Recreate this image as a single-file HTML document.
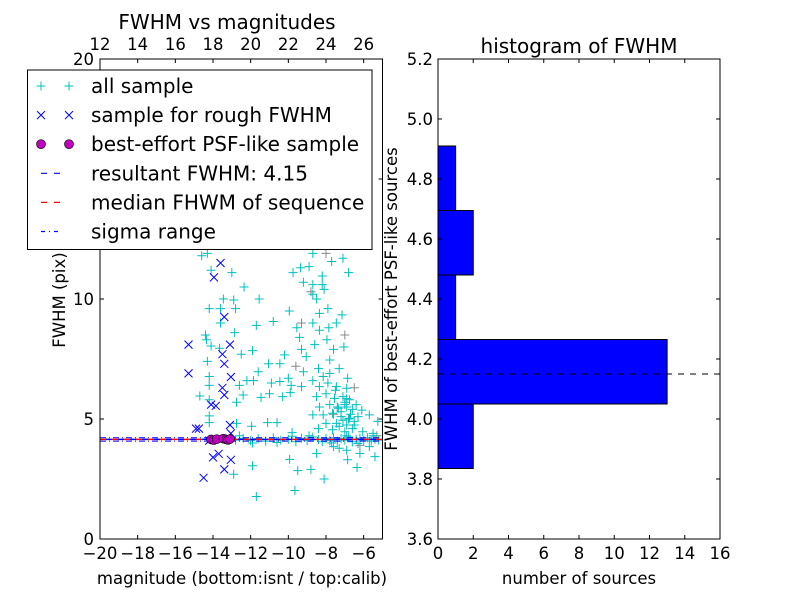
<!DOCTYPE html>
<html><head><meta charset="utf-8"><style>
html,body{margin:0;padding:0;background:#fff;}
svg{display:block;font-family:"DejaVu Sans","Liberation Sans",sans-serif;}
</style></head><body>
<svg id="c" width="800" height="600" viewBox="0 0 800 600"></svg>
<script>
// ---- data ----
const allMag = [-14.6,-14.3,-14.1,-13.0,-12.35,-11.55,-13.45,-12.9,-14.2,-13.6,-12.8,-13.6,-11.7,-10.8,-14.4,-14.35,-12.85,-14.1,-13.65,-12.5,-11.9,-14.3,-11.6,-11.05,-10.45,-10.2,-14.2,-14.2,-12.6,-12.2,-11.85,-10.9,-10.45,-10.0,-9.85,-9.3,-14.7,-14.2,-12.75,-12.4,-11.45,-11.0,-10.3,-9.9,-14.2,-14.2,-12.75,-11.95,-11.1,-10.6,-9.8,-11.9,-9.93,-9.5,-8.8,-8.1,-9.65,-11.7,-12.9,-7.3,-6.35,-5.4,-6.85,
-8.7,-9.75,-9.35,-8.9,-7.7,-7.1,-6.8,-9.2,-8.7,-8.2,-8.2,-8.1,-8.7,-8.5,-9.95,-8.35,-7.9,-7.15,-8.7,-9.55,-9.4,-8.35,-7.85,-7.45,-8.6,-9.3,-9.05,-7.95,-7.6,-7.05,-7.8,-8.4,-9.2,-8.7,-8.15,-7.8,-7.3,-6.85,-8.35,-7.9,-7.45,-6.9,-8.5,-8.0,-7.55,-7.1,-6.75,-8.35,-7.8,-7.35,-6.9,-6.4,-6.1,-8.7,-8.15,-7.65,-7.2,-6.75,-6.3,-5.7,-5.25,-8.0,-7.45,-6.9,-6.5,-8.4,-7.65,-7.0,-6.6,-6.05,-5.5,-8.5,-7.6,-6.9,-6.2,-5.7,
-12.8,-12.4,-12.0,-11.6,-11.2,-10.8,-10.4,-10.0,-9.6,-9.3,-9.0,-8.7,-8.4,-8.2,-8.0,-7.8,-7.6,-7.4,-7.2,-7.0,-6.8,-6.6,-6.4,-6.2,-6.0,-5.8,-5.6,-5.4,-5.2,-12.6,-11.9,-10.6,-9.8,-8.9,-7.7,-6.9,-6.3,-5.5,
-7.2,-7.0,-6.8,-7.4,-6.6,-7.1,-6.9,-7.3,-6.7,-7.5,-6.5,-7.0];
const allFwhm = [11.8,11.9,11.2,11.1,10.5,10.0,10.0,9.96,9.6,9.6,9.6,9.0,8.9,9.06,8.5,8.3,8.6,8.04,7.95,7.7,7.85,7.4,6.97,7.3,7.3,7.67,6.77,6.4,6.4,6.6,6.6,6.5,6.56,6.7,6.4,6.35,5.96,5.8,5.7,6.0,5.9,6.05,5.93,6.1,5.13,4.85,4.82,4.7,4.85,4.85,4.43,3.05,3.32,2.85,2.9,2.5,2.02,1.77,2.7,3.78,2.98,3.43,3.3,
11.9,11.1,11.3,11.35,11.56,11.7,11.1,10.7,10.6,10.96,10.6,10.4,10.2,10.0,9.5,9.4,9.6,9.34,9.0,8.8,8.4,8.7,8.8,9.0,8.1,7.9,7.6,8.3,7.9,8.0,7.46,7.1,6.97,6.6,6.77,6.9,7.1,6.7,6.35,6.5,6.35,6.28,5.93,6.05,5.86,5.93,5.8,5.5,5.6,5.45,5.5,5.6,5.37,5.17,5.17,5.24,5.1,5.03,5.1,5.17,4.9,4.82,4.82,4.75,4.9,4.6,4.55,4.47,4.6,4.47,4.4,3.57,3.85,3.7,3.57,3.85,
4.12,4.2,4.1,4.18,4.08,4.22,4.12,4.15,4.05,4.2,4.1,4.25,4.14,4.05,4.2,4.1,4.22,4.08,4.18,4.12,4.25,4.05,4.15,4.2,4.1,4.22,4.08,4.16,4.12,4.3,4.0,4.02,4.28,4.3,4.0,4.3,3.98,4.3,
5.3,5.7,5.0,5.5,5.4,4.95,5.85,4.7,5.2,6.2,4.75,5.6];
const grayMag = [-8.0,-9.3,-7.0,-6.5,-5.3,-8.8,-7.6,-9.6,-6.2];
const grayFwhm = [11.9,9.0,8.5,6.3,4.3,10.3,5.2,7.2,3.9];
const roughMag = [-13.6,-13.95,-13.4,-15.3,-13.1,-13.5,-13.4,-15.3,-13.05,-13.5,-13.4,-14.1,-13.85,-13.1,-14.9,-14.75,-14.0,-13.7,-13.05,-13.4,-14.5,-13.05,-14.2,-13.2];
const roughFwhm = [11.5,10.9,9.25,8.1,8.1,7.7,7.3,6.9,6.75,6.3,6.0,5.6,5.55,4.75,4.6,4.6,3.4,3.55,3.3,2.9,2.55,4.4,4.1,4.2];
const psfMag = [-14.1,-13.95,-13.8,-13.45,-13.3,-13.2,-13.1];
const psfFwhm = [4.15,4.12,4.16,4.18,4.15,4.13,4.16];
const resultFwhm = 4.15, medianFwhm = 4.15, sigmaLow = 4.08, sigmaHigh = 4.22;
const binEdges = [3.835,4.05,4.265,4.48,4.695,4.91];
const binCounts = [2,13,1,2,1];
const leftXTicks = [-20,-18,-16,-14,-12,-10,-8,-6];
const leftTopTicks = [12,14,16,18,20,22,24,26];
const leftYTicks = [0,5,10,15,20];
const rightXTicks = [0,2,4,6,8,10,12,14,16];
const rightYTicks = [3.6,3.8,4.0,4.2,4.4,4.6,4.8,5.0,5.2];

// ---- helpers ----
const NS='http://www.w3.org/2000/svg', svg=document.getElementById('c');
function el(tag,attrs,parent){const e=document.createElementNS(NS,tag);for(const k in attrs)e.setAttribute(k,attrs[k]);(parent||svg).appendChild(e);return e;}
function txt(s,x,y,size,anchor,parent,rot){const t=el('text',{x:x,y:y,'font-size':size,'text-anchor':anchor||'middle',fill:'#000'},parent);if(rot)t.setAttribute('transform','rotate(-90 '+x+' '+y+')');t.textContent=s;return t;}

const L={x0:100,x1:382.5,y0:539,y1:59};
const lx=m=>L.x0+(m+20)/15*(L.x1-L.x0);
const ly=f=>L.y0-f/20*(L.y0-L.y1);
const ltx=v=>lx(v-32);
const R={x0:438,x1:720,y0:539,y1:59};
const rx=n=>R.x0+n/16*(R.x1-R.x0);
const ry=f=>R.y0-(f-3.6)/1.6*(R.y0-R.y1);

const TICK=16.5, LAB=16.5, TITLE=20, LEG=20;

// ---- left plot ----
const gL=el('g',{});


const cp=el('clipPath',{id:'clipL'},gL);
el('rect',{x:L.x0,y:L.y1,width:L.x1-L.x0,height:L.y0-L.y1},cp);
const pl=el('g',{'clip-path':'url(#clipL)'},gL);
function plus(x,y,c,g){el('path',{d:`M${x-4.5} ${y}h9M${x} ${y-4.5}v9`,stroke:c,'stroke-width':1,fill:'none'},g);}
function cross(x,y,c,g){el('path',{d:`M${x-4} ${y-4}l8 8M${x-4} ${y+4}l8 -8`,stroke:c,'stroke-width':1,fill:'none'},g);}
const gg=el('g',{},pl);


grayMag.forEach((m,i)=>plus(lx(m),ly(grayFwhm[i]),'#888',gg));
const ga=el('g',{},pl);


allMag.forEach((m,i)=>plus(lx(m),ly(allFwhm[i]),'#00bfbf',ga));
const gr=el('g',{},pl);


roughMag.forEach((m,i)=>cross(lx(m),ly(roughFwhm[i]),'#0000ff',gr));
const lnS=el('line',{x1:L.x0,x2:L.x1,y1:ly(sigmaLow),y2:ly(sigmaLow),stroke:'#0000ff','stroke-width':1,'stroke-dasharray':'6 3 1 3'},pl);

const lnS2=el('line',{x1:L.x0,x2:L.x1,y1:ly(sigmaHigh),y2:ly(sigmaHigh),stroke:'#0000ff','stroke-width':1,'stroke-dasharray':'6 3 1 3'},pl);

const lnM=el('line',{x1:L.x0,x2:L.x1,y1:ly(medianFwhm),y2:ly(medianFwhm),stroke:'#ff0000','stroke-width':1.5,'stroke-dasharray':'6 6'},pl);

const lnR=el('line',{x1:L.x0,x2:L.x1,y1:ly(resultFwhm),y2:ly(resultFwhm),stroke:'#0000ff','stroke-width':1.5,'stroke-dasharray':'6 6','stroke-dashoffset':6},pl);

const gp=el('g',{},pl);


psfMag.forEach((m,i)=>el('circle',{cx:lx(m),cy:ly(psfFwhm[i]),r:4.5,fill:'#bf00bf',stroke:'#000','stroke-width':0.6},gp));
el('rect',{x:L.x0,y:L.y1,width:L.x1-L.x0,height:L.y0-L.y1,fill:'none',stroke:'#000','stroke-width':1},gL);
leftXTicks.forEach(v=>{const x=lx(v);el('line',{x1:x,x2:x,y1:L.y0,y2:L.y0-4,stroke:'#000'},gL);const t=txt(String(v).replace('-','\u2212'),x,559,TICK,'middle',gL);});
leftTopTicks.forEach(v=>{const x=ltx(v);el('line',{x1:x,x2:x,y1:L.y1,y2:L.y1+4,stroke:'#000'},gL);const t=txt(String(v),x,50,TICK,'middle',gL);});
leftYTicks.forEach(v=>{const y=ly(v);el('line',{x1:L.x0,x2:L.x0+4,y1:y,y2:y,stroke:'#000'},gL);el('line',{x1:L.x1,x2:L.x1-4,y1:y,y2:y,stroke:'#000'},gL);const t=txt(String(v),94,y+6,TICK,'end',gL);});
let t=txt('magnitude (bottom:isnt / top:calib)',242,584,LAB,'middle',gL);
t=txt('FWHM (pix)',65,300,LAB,'middle',gL,true);
t=txt('FWHM vs magnitudes',227,29,TITLE,'middle',gL);

// legend
const lg=el('g',{});


el('rect',{x:27.5,y:70,width:344.5,height:179.5,fill:'#fff',stroke:'#000','stroke-width':1},lg);
const labels=['all sample','sample for rough FWHM','best-effort PSF-like sample','resultant FWHM: 4.15','median FHWM of sequence','sigma range'];
labels.forEach((s,i)=>{const y=86+i*29.1;const e=el('g',{},lg);


if(i==0){plus(41,y,'#00bfbf',e);plus(69,y,'#00bfbf',e);}
if(i==1){cross(41,y,'#0000ff',e);cross(69,y,'#0000ff',e);}
if(i==2){el('circle',{cx:41,cy:y,r:4.5,fill:'#bf00bf',stroke:'#000','stroke-width':0.6},e);el('circle',{cx:69,cy:y,r:4.5,fill:'#bf00bf',stroke:'#000','stroke-width':0.6},e);}
if(i==3||i==4){const c=i==3?'#0000ff':'#ff0000';el('path',{d:`M41 ${y}h6M54 ${y}h6`,stroke:c,'stroke-width':1.2},e);}
if(i==5){el('path',{d:`M41 ${y}h4M49 ${y}h1M54 ${y}h4`,stroke:'#0000ff','stroke-width':1.2},e);}
txt(s,91,y+7,LEG,'start',e);});

// ---- right plot ----
const gR=el('g',{});


binCounts.forEach((c,i)=>{const b=el('rect',{x:rx(0),y:ry(binEdges[i+1]),width:rx(c)-rx(0),height:ry(binEdges[i])-ry(binEdges[i+1]),fill:'#0000ff',stroke:'#000','stroke-width':1},gR);

});
const hl=el('line',{x1:R.x0,x2:R.x1,y1:ry(resultFwhm),y2:ry(resultFwhm),stroke:'#000','stroke-width':1,'stroke-dasharray':'6 6'},gR);

el('rect',{x:R.x0,y:R.y1,width:R.x1-R.x0,height:R.y0-R.y1,fill:'none',stroke:'#000','stroke-width':1},gR);
rightXTicks.forEach(v=>{const x=rx(v);el('line',{x1:x,x2:x,y1:R.y0,y2:R.y0-4,stroke:'#000'},gR);el('line',{x1:x,x2:x,y1:R.y1,y2:R.y1+4,stroke:'#000'},gR);const t=txt(String(v),x,559,TICK,'middle',gR);});
rightYTicks.forEach(v=>{const y=ry(v);el('line',{x1:R.x0,x2:R.x0+4,y1:y,y2:y,stroke:'#000'},gR);el('line',{x1:R.x1,x2:R.x1-4,y1:y,y2:y,stroke:'#000'},gR);const t=txt(v.toFixed(1),433,y+6,TICK,'end',gR);});
t=txt('number of sources',579,584,LAB,'middle',gR);
t=txt('FWHM of best-effort PSF-like sources',397,299,LAB,'middle',gR,true);
t=txt('histogram of FWHM',579,53,TITLE,'middle',gR);
</script>
</body></html>
